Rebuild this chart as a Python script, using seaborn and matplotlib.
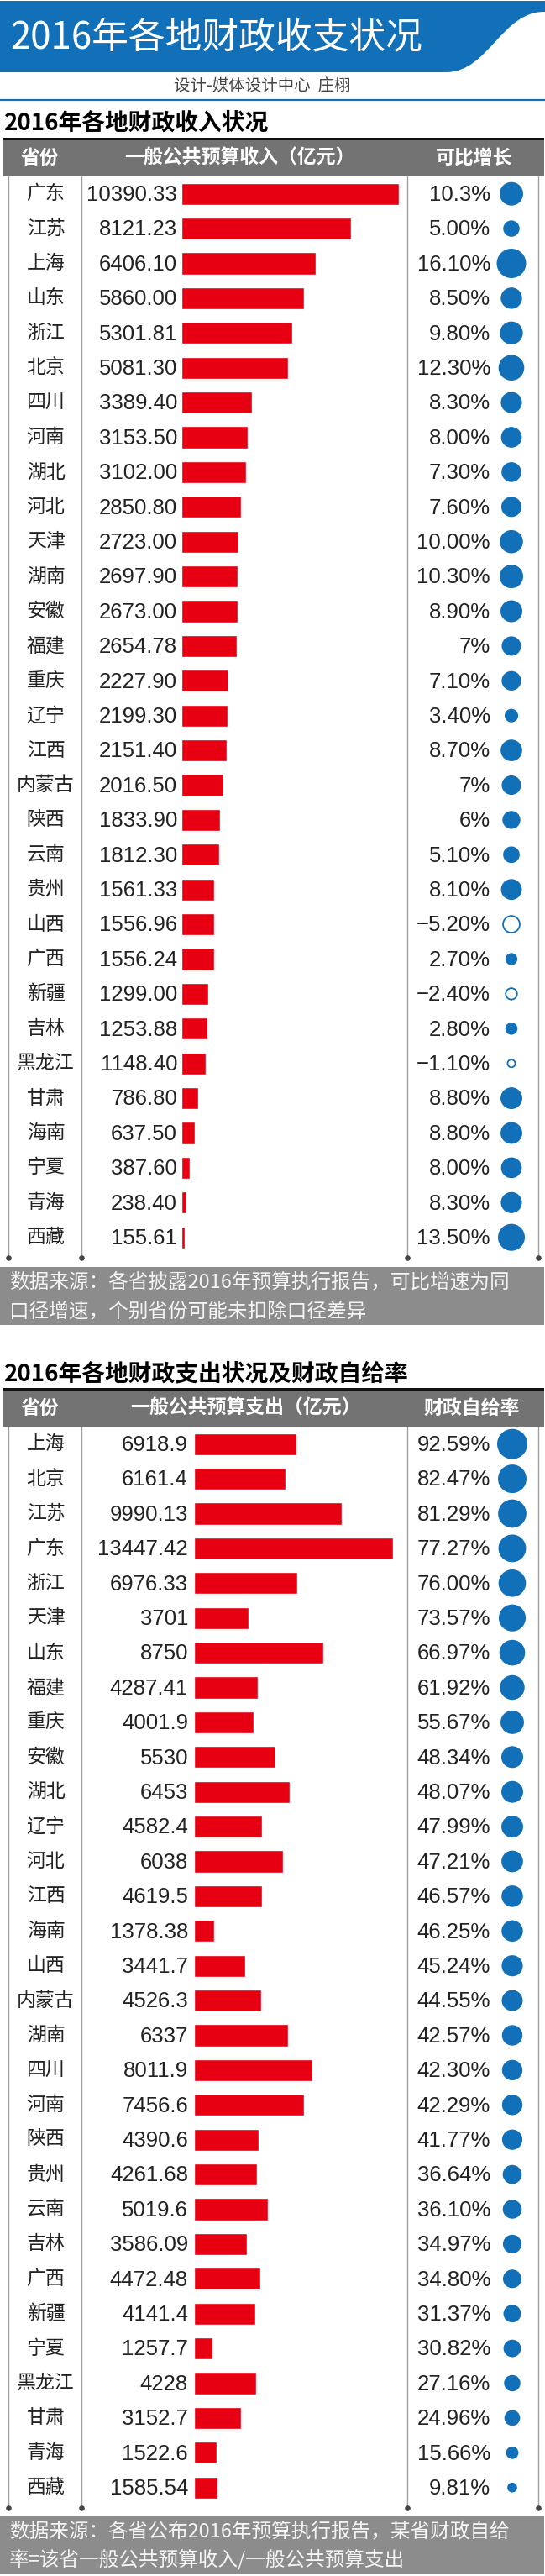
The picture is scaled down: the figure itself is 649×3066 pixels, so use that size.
import numpy as np
import pandas as pd
import matplotlib
matplotlib.use('Agg')
import matplotlib.pyplot as plt
import seaborn as sns
from matplotlib import transforms
from matplotlib.path import Path
from matplotlib.patches import PathPatch, Rectangle

# ---------------- data ----------------
title = "2016年各地财政收支状况"
credit = "设计-媒体设计中心  庄栩"

income_title = "2016年各地财政收入状况"
income_headers = ["省份", "一般公共预算收入（亿元）", "可比增长"]
income_provinces = ["广东", "江苏", "上海", "山东", "浙江", "北京", "四川", "河南", "湖北", "河北",
                    "天津", "湖南", "安徽", "福建", "重庆", "辽宁", "江西", "内蒙古", "陕西", "云南",
                    "贵州", "山西", "广西", "新疆", "吉林", "黑龙江", "甘肃", "海南", "宁夏", "青海", "西藏"]
income_values = ["10390.33", "8121.23", "6406.10", "5860.00", "5301.81", "5081.30", "3389.40", "3153.50",
                 "3102.00", "2850.80", "2723.00", "2697.90", "2673.00", "2654.78", "2227.90", "2199.30",
                 "2151.40", "2016.50", "1833.90", "1812.30", "1561.33", "1556.96", "1556.24", "1299.00",
                 "1253.88", "1148.40", "786.80", "637.50", "387.60", "238.40", "155.61"]
income_growth = ["10.3%", "5.00%", "16.10%", "8.50%", "9.80%", "12.30%", "8.30%", "8.00%", "7.30%", "7.60%",
                 "10.00%", "10.30%", "8.90%", "7%", "7.10%", "3.40%", "8.70%", "7%", "6%", "5.10%",
                 "8.10%", "-5.20%", "2.70%", "-2.40%", "2.80%", "-1.10%", "8.80%", "8.80%", "8.00%", "8.30%", "13.50%"]
income_note = ["数据来源：各省披露2016年预算执行报告，可比增速为同",
               "口径增速，个别省份可能未扣除口径差异"]

spend_title = "2016年各地财政支出状况及财政自给率"
spend_headers = ["省份", "一般公共预算支出（亿元）", "财政自给率"]
spend_provinces = ["上海", "北京", "江苏", "广东", "浙江", "天津", "山东", "福建", "重庆", "安徽",
                   "湖北", "辽宁", "河北", "江西", "海南", "山西", "内蒙古", "湖南", "四川", "河南",
                   "陕西", "贵州", "云南", "吉林", "广西", "新疆", "宁夏", "黑龙江", "甘肃", "青海", "西藏"]
spend_values = ["6918.9", "6161.4", "9990.13", "13447.42", "6976.33", "3701", "8750", "4287.41", "4001.9",
                "5530", "6453", "4582.4", "6038", "4619.5", "1378.38", "3441.7", "4526.3", "6337", "8011.9",
                "7456.6", "4390.6", "4261.68", "5019.6", "3586.09", "4472.48", "4141.4", "1257.7", "4228",
                "3152.7", "1522.6", "1585.54"]
spend_ratio = ["92.59%", "82.47%", "81.29%", "77.27%", "76.00%", "73.57%", "66.97%", "61.92%", "55.67%",
               "48.34%", "48.07%", "47.99%", "47.21%", "46.57%", "46.25%", "45.24%", "44.55%", "42.57%",
               "42.30%", "42.29%", "41.77%", "36.64%", "36.10%", "34.97%", "34.80%", "31.37%", "30.82%",
               "27.16%", "24.96%", "15.66%", "9.81%"]
spend_note = ["数据来源：各省公布2016年预算执行报告，某省财政自给",
              "率=该省一般公共预算收入/一般公共预算支出"]

# ---------------- style ----------------
sns.set_theme(style='white')
CJK = ['Noto Sans CJK SC', 'DejaVu Sans']
NUM = ['Liberation Sans', 'Noto Sans CJK SC', 'DejaVu Sans']
plt.rcParams['font.family'] = CJK

BLUE = '#1170B8'
RED = '#E60012'
HEAD_GRAY = '#737373'
NOTE_GRAY = '#8C8C8C'
LINE_GRAY = '#A0A0A0'
TXT = '#222222'

W, H = 649, 3066
fig = plt.figure(figsize=(W / 100, H / 100), dpi=100)
fig.patch.set_facecolor('white')


def rect(x0, y0, x1, y1):
    return [x0 / W, 1 - y1 / H, (x1 - x0) / W, (y1 - y0) / H]


bg = fig.add_axes([0, 0, 1, 1])
bg.set_xlim(0, W)
bg.set_ylim(H, 0)
bg.set_axis_off()

# ---------------- banner ----------------
verts = [(0, 1), (W, 1), (W, 14), (598, 13), (582, 85), (532, 86), (0, 86), (0, 1)]
codes = [Path.MOVETO, Path.LINETO, Path.LINETO, Path.CURVE4, Path.CURVE4, Path.CURVE4, Path.LINETO, Path.CLOSEPOLY]
bg.add_patch(PathPatch(Path(verts, codes), facecolor=BLUE, edgecolor='none'))
bg.text(12, 44, title, color='white', fontsize=31.5, ha='left', va='center', family=CJK)
bg.text(312, 103, credit, color='#444444', fontsize=14, ha='center', va='center', family=CJK)
bg.plot([0, W], [119, 119], color=BLUE, lw=1.6, solid_capstyle='butt')

ROW_H = 41.4


def draw_table(sec_title, sec_y, headers, header_x, provinces, values_str, pct_str,
               bar_x0, bar_scale, val_right, circ_k, circ_cx, note, note_y0, note_y1):
    n = len(provinces)
    # section title
    bg.text(5, sec_y, sec_title, color='black', fontsize=20, fontweight='bold',
            ha='left', va='center', family=CJK)
    line_y = sec_y + 18
    bg.add_patch(Rectangle((4, line_y - 1.5), 644, 3, facecolor='#111111', edgecolor='none'))
    band_top, band_bot = line_y + 1.5, line_y + 45
    bg.add_patch(Rectangle((4, band_top), 644, band_bot - band_top, facecolor=HEAD_GRAY, edgecolor='none'))
    for hx, ht in zip(header_x, headers):
        bg.text(hx, (band_top + band_bot) / 2, ht, color='white', fontsize=16.5, fontweight='bold',
                ha='center', va='center', family=CJK)
    top = band_bot
    bottom = top + n * ROW_H
    # vertical rules with end dots
    for x in [10, 97, 485, 641]:
        bg.plot([x, x], [top, bottom + 4], color=LINE_GRAY, lw=1.0)
        bg.scatter([x], [bottom + 4], s=14, color='#444444', zorder=3)

    # bars
    vals = [float(v) for v in values_str]
    df = pd.DataFrame({'prov': provinces, 'val': vals})
    ax = fig.add_axes(rect(bar_x0, top, 482, bottom))
    sns.barplot(data=df, x='val', y='prov', order=provinces, orient='h', color=RED,
                saturation=1, width=0.63, ax=ax)
    ax.set_xlim(0, (482 - bar_x0) / bar_scale)
    ax.set_ylim(n - 0.5, -0.5)
    ax.set_axis_off()

    tr = transforms.blended_transform_factory(bg.transData, ax.transData)
    for i, (p, vs, ps) in enumerate(zip(provinces, values_str, pct_str)):
        ax.text(54.5, i, p, transform=tr, ha='center', va='center', fontsize=16.5, color=TXT, family=CJK)
        ax.text(val_right, i + 0.03, vs, transform=tr, ha='right', va='center', fontsize=18.5,
                color=TXT, family=NUM)
        ax.text(584, i + 0.03, ps.replace('-', '\u2212'), transform=tr, ha='right', va='center',
                fontsize=18.5, color=TXT, family=NUM)

    # circles
    pv = np.array([float(s.strip('%')) for s in pct_str])
    cax = fig.add_axes(rect(circ_cx - 20, top, circ_cx + 20, bottom))
    cax.set_xlim(-1, 1)
    cax.set_ylim(n - 0.5, -0.5)
    cax.set_axis_off()
    d_px = circ_k * np.sqrt(np.abs(pv))
    sz = (d_px * 0.72) ** 2
    rows = np.arange(n)
    pos = pv >= 0
    cax.scatter(np.zeros(pos.sum()), rows[pos], s=sz[pos], color=BLUE, linewidths=0, clip_on=False)
    if (~pos).any():
        cax.scatter(np.zeros((~pos).sum()), rows[~pos], s=sz[~pos], facecolors='white',
                    edgecolors=BLUE, linewidths=1.3, clip_on=False)

    # note band
    bg.add_patch(Rectangle((0, note_y0), W - 1, note_y1 - note_y0, facecolor=NOTE_GRAY, edgecolor='none'))
    lh = (note_y1 - note_y0) / 2
    for k, line in enumerate(note):
        bg.text(11, note_y0 + lh * (k + 0.5) + 1, line, color='#F4F4F4', fontsize=17,
                ha='left', va='center', family=CJK)


draw_table(income_title, 147, income_headers, [47, 285, 565], income_provinces, income_values,
           income_growth, bar_x0=216, bar_scale=0.02493, val_right=211, circ_k=8.72, circ_cx=609,
           note=income_note, note_y0=1508, note_y1=1577)

draw_table(spend_title, 1635, spend_headers, [47, 292, 562], spend_provinces, spend_values,
           spend_ratio, bar_x0=231, bar_scale=0.01762, val_right=224, circ_k=3.74, circ_cx=610,
           note=spend_note, note_y0=2995, note_y1=3064)

fig.savefig('out.png', dpi=100, facecolor='white')
